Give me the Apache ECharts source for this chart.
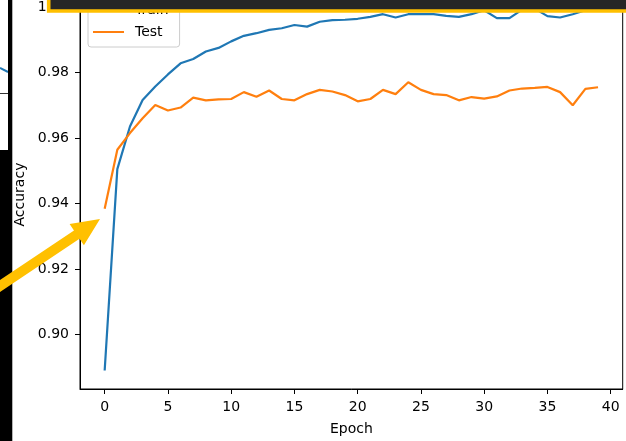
<!DOCTYPE html>
<html>
<head>
<meta charset="utf-8">
<script src="https://cdn.jsdelivr.net/npm/echarts@6/dist/echarts.min.js"></script>
<style>
html,body{margin:0;padding:0;background:#fff;}
#chart{width:626px;height:441px;}
</style>
</head>
<body>
<div id="chart"></div>
<script>
// ---- data ----
var epochs = [0,1,2,3,4,5,6,7,8,9,10,11,12,13,14,15,16,17,18,19,20,21,22,23,24,25,26,27,28,29,30,31,32,33,34,35,36,37,38,39];
var trainAcc = [0.8890,0.9505,0.9635,0.9716,0.9757,0.9794,0.9828,0.9841,0.9864,0.9875,
                0.9895,0.9912,0.9920,0.9930,0.9935,0.9945,0.9940,0.9955,0.9960,0.9961,
                0.9964,0.9970,0.9978,0.9968,0.9978,0.9978,0.9978,0.9973,0.9970,0.9978,
                0.9990,0.9966,0.9966,0.9992,0.9995,0.9972,0.9968,0.9978,0.9990,0.9995];
var testAcc = [0.9384,0.9564,0.9615,0.9660,0.9701,0.9684,0.9693,0.9723,0.9715,0.9718,
               0.9719,0.9740,0.9726,0.9745,0.9719,0.9715,0.9734,0.9747,0.9742,0.9731,
               0.9712,0.9719,0.9747,0.9734,0.9770,0.9747,0.9734,0.9731,0.9715,0.9725,
               0.9720,0.9727,0.9745,0.9751,0.9753,0.9756,0.9740,0.9700,0.9750,0.9755];
var seriesNames = ['Train','Test'];
var xTicks = [0,5,10,15,20,25,30,35,40];
var yTicks = [0.90,0.92,0.94,0.96,0.98,1.00];

var chart = echarts.init(document.getElementById('chart'), null, {renderer:'canvas'});
function pairs(ys){ return epochs.map(function(e,i){ return [e, ys[i]]; }); }
var FONT = 'DejaVu Sans';

var arrowPts = [[-22.8,295.2],[74.0,230.4],[69.6,224.0],[100,219],[83.9,245.2],[79.5,238.8],[-17.2,303.6]];

chart.setOption({
  animation:false,
  backgroundColor:'#ffffff',
  textStyle:{fontFamily:FONT},
  grid:{left:80, right:3.3, top:0, bottom:51.7, show:true, borderColor:'#000', borderWidth:1, backgroundColor:'transparent'},
  legend:{
    data:seriesNames,
    orient:'vertical',
    left:88, top:-3,
    padding:[6,11,8,5],
    itemWidth:31, itemHeight:2, itemGap:8,
    icon:'rect',
    backgroundColor:'rgba(255,255,255,0.8)',
    borderColor:'#cccccc', borderWidth:1, borderRadius:3,
    textStyle:{fontFamily:FONT, fontSize:14, color:'#000', lineHeight:14, padding:[0,0,0,6]}
  },
  xAxis:{
    type:'value', min:-1.95, max:40.95,
    name:'Epoch', nameLocation:'middle', nameGap:33,
    nameTextStyle:{fontFamily:FONT, fontSize:14, color:'#000'},
    axisLine:{show:true, onZero:false, lineStyle:{color:'#000', width:1}},
    axisTick:{show:true, length:5, customValues:xTicks, lineStyle:{color:'#000'}},
    axisLabel:{show:true, margin:11, customValues:xTicks, fontFamily:FONT, fontSize:14, color:'#000'},
    splitLine:{show:false}
  },
  yAxis:{
    type:'value', min:0.88334, max:1.00212,
    name:'Accuracy', nameLocation:'middle', nameGap:53, nameRotate:90,
    nameTextStyle:{fontFamily:FONT, fontSize:14, color:'#000'},
    axisLine:{show:true, onZero:false, lineStyle:{color:'#000', width:1}},
    axisTick:{show:true, length:5, customValues:yTicks, lineStyle:{color:'#000'}},
    axisLabel:{show:true, margin:11, customValues:yTicks, fontFamily:FONT, fontSize:14, color:'#000',
      formatter:function(v){ return v.toFixed(2); }},
    splitLine:{show:false}
  },
  series:[
    {name:seriesNames[0], type:'line', data:pairs(trainAcc), showSymbol:false, symbol:'none',
     lineStyle:{color:'#1f77b4', width:2.2}, itemStyle:{color:'#1f77b4'}, z:2},
    {name:seriesNames[1], type:'line', data:pairs(testAcc), showSymbol:false, symbol:'none',
     lineStyle:{color:'#ff7f0e', width:2.2}, itemStyle:{color:'#ff7f0e'}, z:3}
  ],
  graphic:[
    // left strip (neighbouring window)
    {type:'rect', z:100, shape:{x:0,y:0,width:8,height:150}, style:{fill:'#ffffff'}},
    {type:'line', z:101, shape:{x1:0,y1:68,x2:8,y2:72}, style:{stroke:'#1f77b4', lineWidth:2}},
    {type:'line', z:101, shape:{x1:0,y1:93.5,x2:8,y2:93.5}, style:{stroke:'#333', lineWidth:1}},
    {type:'rect', z:102, shape:{x:8,y:0,width:4.3,height:150}, style:{fill:'#000'}},
    {type:'rect', z:102, shape:{x:0,y:150,width:12.3,height:291}, style:{fill:'#000'}},
    // top banner
    {type:'rect', z:110, shape:{x:48.7,y:-20,width:600,height:31}, style:{fill:'#262626', stroke:'#FFC000', lineWidth:3.6}},
    // arrow
    {type:'polygon', z:120, shape:{points:arrowPts}, style:{fill:'#FFC000'}}
  ]
});
</script>
</body>
</html>
